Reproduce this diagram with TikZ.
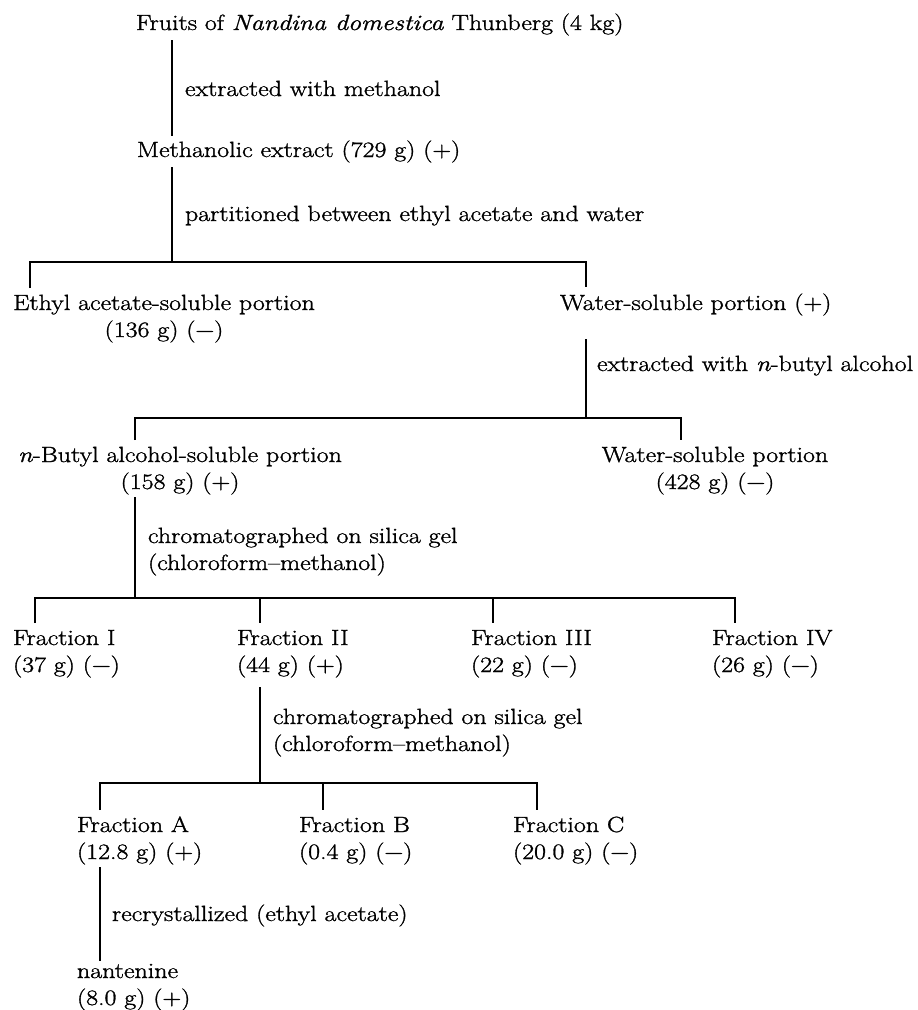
\documentclass[tikz,border=0pt]{standalone}
\usepackage{fontspec}
\setmainfont{Latin Modern Roman}[FakeStretch=1.18, RawFeature={embolden=1.3}]
\newcommand{\twol}[2]{\begin{tabular}[t]{@{}l@{}}#1\\#2\end{tabular}}
\newcommand{\twoc}[2]{\begin{tabular}[t]{@{}c@{}}#1\\#2\end{tabular}}
\newcommand{\mns}{\symbol{"2212}}
\begin{document}
\begin{tikzpicture}[x=1pt,y=-1pt,
  lbl/.style={inner sep=0pt, outer xsep=0pt, outer ysep=3pt, text height=15pt, text depth=5pt,
              font=\fontsize{22}{27}\selectfont},
  lbltwo/.style={inner sep=0pt, outer xsep=0pt, outer ysep=3pt,
              font=\fontsize{22}{27}\selectfont},
  conn/.style={line width=1.5pt, line cap=butt}]
\fill[white] (0,0) rectangle (918,1010);
\useasboundingbox (0,0) rectangle (918,1010);
% --- labels
\node[lbl, anchor=base west] (fruits) at (136,30) {Fruits of \textit{Nandina domestica} Thunberg (4 kg)};
\node[lbl, anchor=base west] (ext1) at (185,96) {extracted with methanol};
\node[lbl, anchor=base west] (meth) at (137,157) {Methanolic extract (729 g) (+)};
\node[lbl, anchor=base west] (part) at (185,221) {partitioned between ethyl acetate and water};
\node[lbltwo, anchor=base] (eth) at (164,310) {\twoc{Ethyl acetate-soluble portion}{(136 g) (\mns)}};
\node[lbl, anchor=base west] (water1) at (560,310) {Water-soluble portion (+)};
\node[lbl, anchor=base west] (ext2) at (597,371) {extracted with \textit{n}-butyl alcohol};
\node[lbltwo, anchor=base] (nbut) at (180,462) {\twoc{\textit{n}-Butyl alcohol-soluble portion}{(158 g) (+)}};
\node[lbltwo, anchor=base] (water2) at (715,462) {\twoc{Water-soluble portion}{(428 g) (\mns)}};
\node[lbltwo, anchor=base west] (chr1) at (148,543) {\twol{chromatographed on silica gel}{(chloroform--methanol)}};
\node[lbltwo, anchor=base west] (fI) at (13,645) {\twol{Fraction I}{(37 g) (\mns)}};
\node[lbltwo, anchor=base west] (fII) at (237,645) {\twol{Fraction II}{(44 g) (+)}};
\node[lbltwo, anchor=base west] (fIII) at (471,645) {\twol{Fraction III}{(22 g) (\mns)}};
\node[lbltwo, anchor=base west] (fIV) at (712,645) {\twol{Fraction IV}{(26 g) (\mns)}};
\node[lbltwo, anchor=base west] (chr2) at (273,724) {\twol{chromatographed on silica gel}{(chloroform--methanol)}};
\node[lbltwo, anchor=base west] (fA) at (77,832) {\twol{Fraction A}{(12.8 g) (+)}};
\node[lbltwo, anchor=base west] (fB) at (299,832) {\twol{Fraction B}{(0.4 g) (\mns)}};
\node[lbltwo, anchor=base west] (fC) at (513,832) {\twol{Fraction C}{(20.0 g) (\mns)}};
\node[lbl, anchor=base west] (recr) at (112,921) {recrystallized (ethyl acetate)};
\node[lbltwo, anchor=base west] (nant) at (77,978) {\twol{nantenine}{(8.0 g) (+)}};
% --- junction coordinates
\coordinate (L1) at (172,0);
\coordinate (b1M) at (172,262);
\coordinate (b1L) at (30,262);
\coordinate (b1R) at (586,262);
\coordinate (b2M) at (586,418);
\coordinate (b2L) at (135,418);
\coordinate (b2R) at (681,418);
\coordinate (b3M) at (135,598);
\coordinate (b3L) at (35,598);
\coordinate (b3II) at (260,598);
\coordinate (b3III) at (493,598);
\coordinate (b3R) at (735,598);
\coordinate (b4M) at (260,783);
\coordinate (b4L) at (100,783);
\coordinate (b4B) at (323,783);
\coordinate (b4R) at (537,783);
% --- connectors
\draw[conn] ([yshift=-2pt]fruits.south -| L1) -- ([yshift=3pt]meth.north -| L1);
\draw[conn] ([yshift=-2pt]meth.south -| L1) -- (b1M);
\draw[conn] (eth.north -| b1L) -- (b1L) -- (b1R) -- ([yshift=5pt]water1.north -| b1R);
\draw[conn] ([yshift=-21pt]water1.south -| b1R) -- (b2M);
\draw[conn] (nbut.north -| b2L) -- (b2L) -- (b2R) -- (water2.north -| b2R);
\draw[conn] ([yshift=3pt]nbut.south -| b2L) -- (b3M);
\draw[conn] (fI.north -| b3L) -- (b3L) -- (b3R) -- (fIV.north -| b3R);
\draw[conn] (b3II) -- (fII.north -| b3II);
\draw[conn] (b3III) -- (fIII.north -| b3III);
\draw[conn] ([yshift=-4pt]fII.south -| b3II) -- (b4M);
\draw[conn] (fA.north -| b4L) -- (b4L) -- (b4R) -- (fC.north -| b4R);
\draw[conn] (b4B) -- (fB.north -| b4B);
\draw[conn] ([yshift=3pt]fA.south -| b4L) -- ([yshift=-5pt]nant.north -| b4L);
\end{tikzpicture}
\end{document}
